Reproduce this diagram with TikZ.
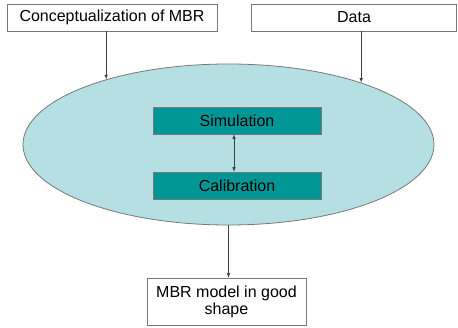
\documentclass[tikz,border=0pt]{standalone}
\usepackage{fontspec}
\setmainfont{Liberation Sans}
\usepackage{tikz}
\usetikzlibrary{arrows,shapes.geometric}

\definecolor{poolcyan}{RGB}{182,223,227}
\definecolor{stageteal}{RGB}{0,150,150}
\definecolor{edgegray}{RGB}{120,120,120}

\begin{document}
\begin{tikzpicture}[x=1pt,y=-1pt,
  inbox/.style={draw=edgegray,fill=white,text=black,minimum height=27pt,inner sep=0pt,font=\fontsize{16}{17}\selectfont},
  stagebox/.style={draw=edgegray,fill=stageteal,minimum width=168pt,minimum height=27pt,inner sep=0pt,font=\fontsize{16}{17}\selectfont\color{black}},
  link/.style={draw=black!75,line width=0.6pt,>=latex}]
\useasboundingbox (0,0) rectangle (458,328);
\node[ellipse,draw=edgegray,line width=0.8pt,fill=poolcyan,minimum width=411pt,minimum height=161pt,inner sep=0pt] (pool) at (228.5,144.5) {};
\node[inbox,minimum width=210pt] (concept) at (112,17.5) {Conceptualization of MBR};
\node[inbox,minimum width=205pt] (data) at (354,17.5) {Data};
\node[stagebox] (sim) at (237,120.5) {Simulation};
\node[stagebox] (cal) at (237,185.5) {Calibration};
\node[inbox,minimum width=159pt,minimum height=47pt,align=center] (model) at (226.5,301.5) {MBR model in good\\shape};

% inputs into the ellipse
\draw[link,->] (concept.south -| pool.152.4) -- (pool.152.4);
\draw[link,->] (data.south -| pool.25.2) -- (pool.25.2);
\draw[link,latex-latex] ([xshift=-3pt]sim.south) -- ([xshift=-3pt]cal.north);
\draw[link,->] (pool.south) -- (pool.south |- model.north);
\end{tikzpicture}
\end{document}
